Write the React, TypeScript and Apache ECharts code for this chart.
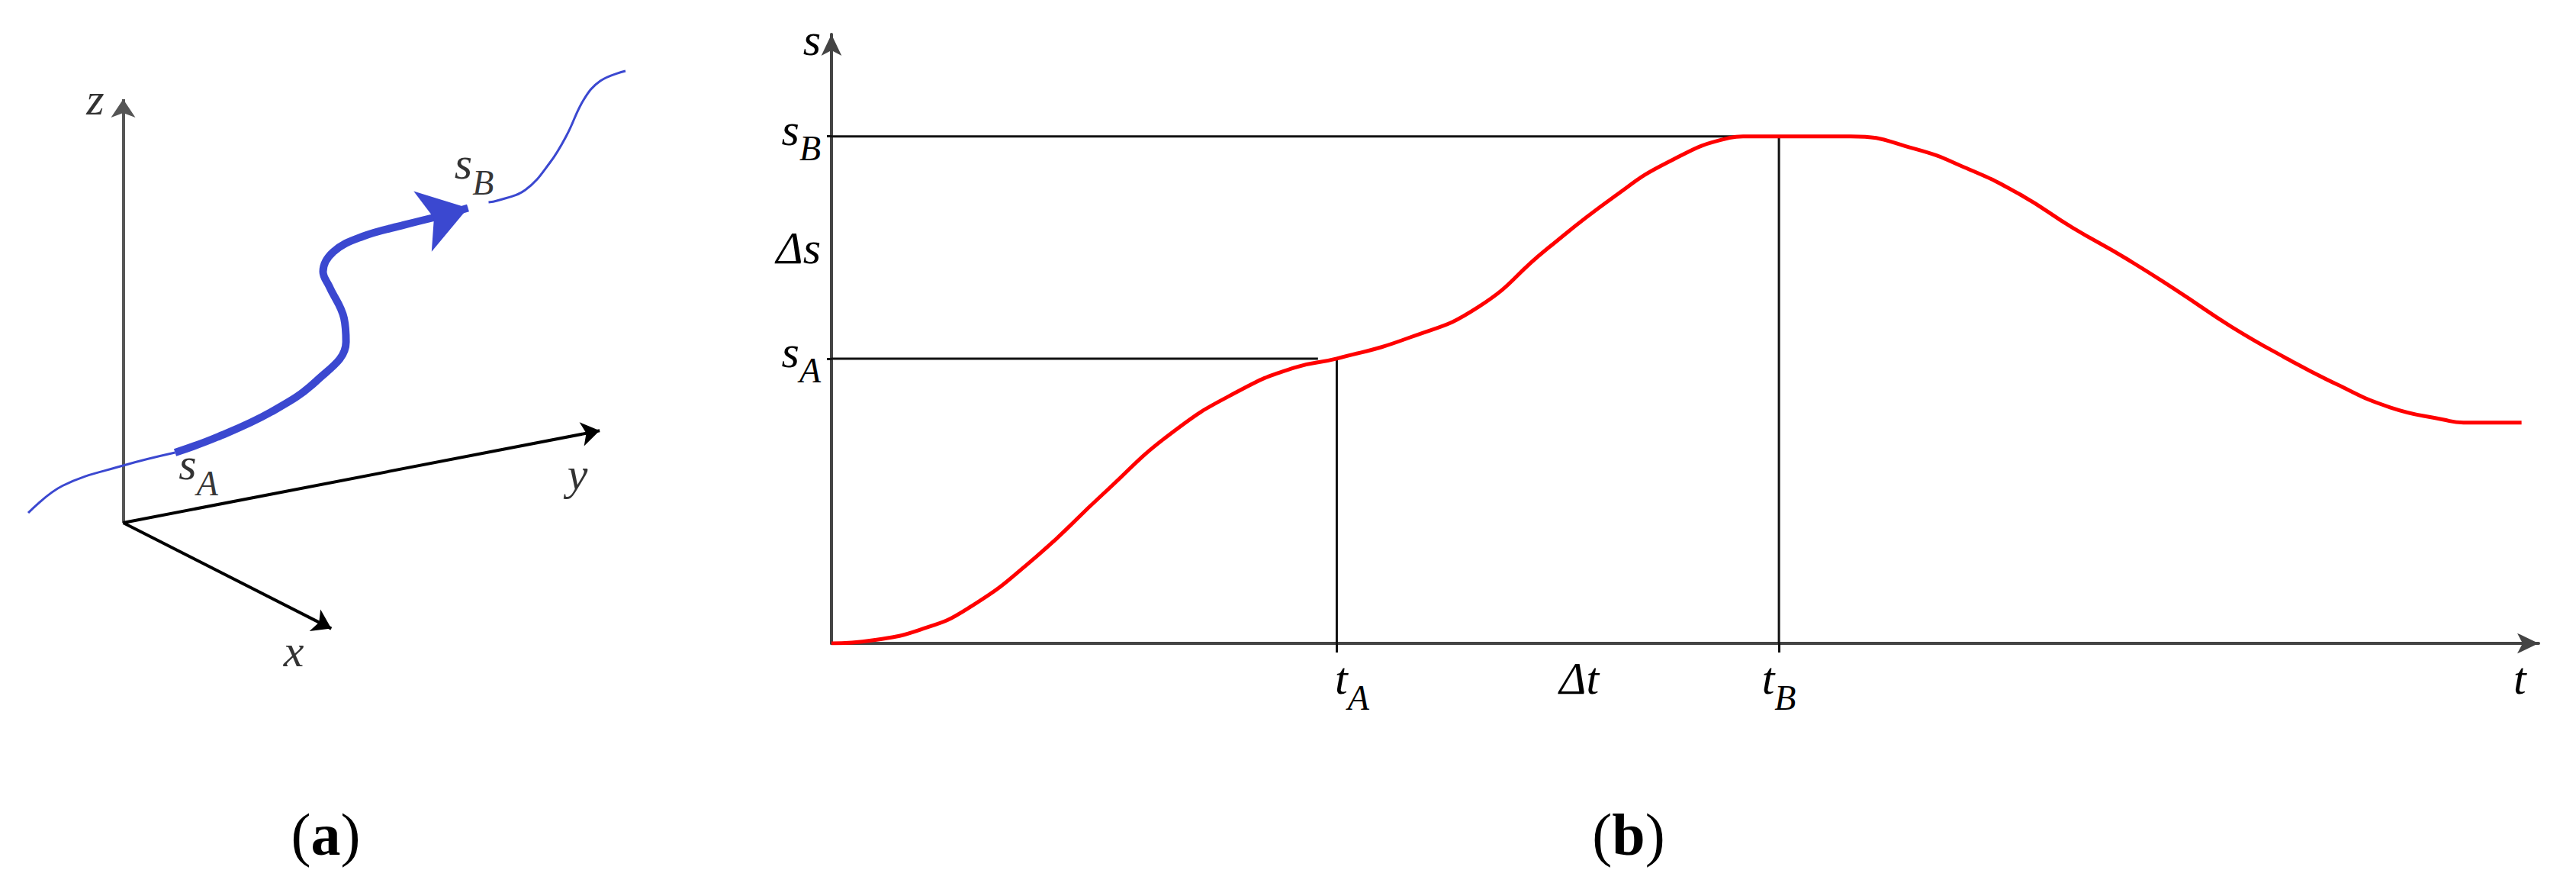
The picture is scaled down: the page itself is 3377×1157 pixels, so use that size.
import React, { useEffect, useRef } from "react";
import * as echarts from "echarts";

// ---------- Panel (b): s(t) profile ----------
const tValues = [0, 0.24, 0.52, 0.8, 1.2, 1.59, 1.99, 2.39, 2.71, 2.96, 3.39, 3.79, 4.18, 4.58, 4.9, 5.26, 5.34, 5.97, 6.34, 6.65, 6.96, 7.27, 7.58, 7.89, 8.2, 8.51, 8.82, 9.13, 9.44, 9.56, 9.9];
const sValues = [0, 0.02, 0.09, 0.23, 0.57, 0.98, 1.38, 1.66, 1.81, 1.87, 2.01, 2.21, 2.58, 2.93, 3.16, 3.32, 3.33, 3.33, 3.25, 3.12, 2.95, 2.73, 2.53, 2.31, 2.08, 1.88, 1.7, 1.55, 1.47, 1.45, 1.45];
const tA = 2.96;
const tB = 5.55;
const sA = 1.87;
const sB = 3.33;
const tLabelValues = [tA, 4.38, tB, 9.89];
const tLabelTexts = ["tA", "Δt", "tB", "t"];
const sLabelValues = [sA, 2.62, sB, 3.99];
const sLabelTexts = ["sA", "Δs", "sB", "s"];
const sBLineEnd = 5.3;
const sALineEnd = 2.85;

// ---------- Panel (a): 3D sketch (units relative to axes origin) ----------
const zAxisEnd = [0, 5.55];
const yAxisEnd = [6.247, 1.207];
const xAxisEnd = [2.728, -1.386];
const thinPathBefore = [[-1.245, 0.13], [-0.795, 0.485], [0, 0.75], [0.68, 0.92]];
const thickPath = [[0.68, 0.92], [1.225, 1.12], [1.935, 1.45], [2.535, 1.86], [2.921, 2.37], [2.895, 2.68], [2.705, 3.09], [2.62, 3.29], [2.755, 3.55], [3.135, 3.75], [3.685, 3.903], [4.2, 4.03]];
const arrowSegment = [[4.2, 4.03], [4.52, 4.125]];
const thinPathAfter = [[4.79, 4.2], [4.9, 4.22], [5.27, 4.36], [5.595, 4.72], [5.815, 5.08], [6.035, 5.54], [6.255, 5.79], [6.585, 5.92]];
const panelALabels = [
  { name: "z", value: [-0.365, 5.6] },
  { name: "y", value: [5.955, 0.69] },
  { name: "x", value: [2.235, -1.63] },
  { name: "sA", value: [0.985, 0.68] },
  { name: "sB", value: [4.6, 4.62] },
];

const SERIF = "Liberation Serif";
const BLUE = "#3b48d0";

const richStyles = (main: number, sub: number) => ({
  i: { fontFamily: SERIF, fontStyle: "italic", fontSize: main, lineHeight: 50, verticalAlign: "top", color: "#000" },
  ip: { fontFamily: SERIF, fontStyle: "italic", fontSize: main, lineHeight: 50, verticalAlign: "top", color: "#000", padding: [0, 0, 0, 40] },
  sub: { fontFamily: SERIF, fontStyle: "italic", fontSize: sub, lineHeight: 78, verticalAlign: "bottom", color: "#000" },
});

const toRich = (txt: string, padFirst = false) => {
  const head = padFirst ? "ip" : "i";
  if (txt.length === 2 && (txt[1] === "A" || txt[1] === "B")) {
    return `{${head}|${txt[0]}}{sub|${txt[1]}}`;
  }
  return `{${head}|${txt}}`;
};

const findText = (vals: number[], texts: string[], v: number) => {
  let best = 0;
  for (let i = 0; i < vals.length; i++) {
    if (Math.abs(vals[i] - v) < Math.abs(vals[best] - v)) best = i;
  }
  return texts[best];
};

export default function App() {
  const ref = useRef<HTMLDivElement>(null);

  useEffect(() => {
    if (!ref.current) return;
    const chart = echarts.init(ref.current, undefined, { renderer: "svg" });
    const curveData = tValues.map((t, i) => [t, sValues[i]]);
    const refLine = (pts: number[][]) => ({
      type: "line",
      xAxisIndex: 1,
      yAxisIndex: 1,
      data: pts,
      symbol: "none",
      lineStyle: { color: "#111", width: 3 },
      z: 2,
    });

    chart.setOption({
      animation: false,
      backgroundColor: "#fff",
      textStyle: { fontFamily: SERIF },
      grid: [
        { left: 0, top: 60, width: 860, height: 840 },
        { left: 1090, right: 49, top: 45, bottom: 314 },
      ],
      xAxis: [
        { type: "value", gridIndex: 0, min: -1.615, max: 6.985, show: false },
        {
          type: "value",
          gridIndex: 1,
          min: 0,
          max: 10,
          splitLine: { show: false },
          axisLine: {
            show: true,
            symbol: ["none", "arrow"],
            symbolSize: [20, 28],
            lineStyle: { color: "#444", width: 4 },
          },
          axisTick: {
            show: true,
            customValues: [tA, tB],
            length: 12,
            lineStyle: { color: "#111", width: 3 },
          },
          axisLabel: {
            show: true,
            customValues: tLabelValues,
            margin: 16,
            formatter: (v: number) => {
              const txt = findText(tLabelValues, tLabelTexts, v);
              return toRich(txt, txt === "tA");
            },
            rich: richStyles(60, 46),
          },
        },
      ],
      yAxis: [
        { type: "value", gridIndex: 0, min: -2.15, max: 6.25, show: false },
        {
          type: "value",
          gridIndex: 1,
          min: 0,
          max: 4,
          splitLine: { show: false },
          axisLine: {
            show: true,
            symbol: ["none", "arrow"],
            symbolSize: [20, 28],
            lineStyle: { color: "#444", width: 4 },
          },
          axisTick: {
            show: true,
            customValues: [sA, sB],
            length: 6,
            lineStyle: { color: "#111", width: 3 },
          },
          axisLabel: {
            show: true,
            customValues: sLabelValues,
            margin: 14,
            formatter: (v: number) => toRich(findText(sLabelValues, sLabelTexts, v)),
            rich: richStyles(60, 46),
          },
        },
      ],
      series: [
        // ---- Panel (a) ----
        {
          type: "lines",
          coordinateSystem: "cartesian2d",
          xAxisIndex: 0,
          yAxisIndex: 0,
          symbol: ["none", "arrow"],
          symbolSize: 24,
          data: [
            { coords: [[0, 0], zAxisEnd], lineStyle: { color: "#555", width: 4 } },
            { coords: [[0, 0], yAxisEnd], lineStyle: { color: "#000", width: 4 } },
            { coords: [[0, 0], xAxisEnd], lineStyle: { color: "#000", width: 4 } },
          ],
          lineStyle: { opacity: 1, curveness: 0 },
          z: 1,
        },
        {
          type: "line",
          xAxisIndex: 0,
          yAxisIndex: 0,
          data: thinPathBefore,
          symbol: "none",
          smooth: 0.4,
          lineStyle: { color: BLUE, width: 3 },
          z: 3,
        },
        {
          type: "line",
          xAxisIndex: 0,
          yAxisIndex: 0,
          data: thickPath,
          symbol: "none",
          smooth: 0.4,
          lineStyle: { color: BLUE, width: 10 },
          z: 3,
        },
        {
          type: "line",
          xAxisIndex: 0,
          yAxisIndex: 0,
          data: thinPathAfter,
          symbol: "none",
          smooth: 0.4,
          lineStyle: { color: BLUE, width: 3 },
          z: 3,
        },
        {
          type: "lines",
          coordinateSystem: "cartesian2d",
          xAxisIndex: 0,
          yAxisIndex: 0,
          symbol: ["none", "arrow"],
          symbolSize: [54, 62],
          data: [{ coords: arrowSegment }],
          lineStyle: { color: BLUE, width: 10, opacity: 1, curveness: 0 },
          z: 4,
        },
        {
          type: "scatter",
          xAxisIndex: 0,
          yAxisIndex: 0,
          symbolSize: 0,
          data: panelALabels,
          label: {
            show: true,
            position: "inside",
            formatter: (p: any) => toRich(p.name),
            rich: richStyles(60, 46),
          },
          z: 5,
        },
        // ---- Panel (b) ----
        refLine([[0, sB], [sBLineEnd, sB]]),
        refLine([[0, sA], [sALineEnd, sA]]),
        refLine([[tA, sA], [tA, 0]]),
        refLine([[tB, sB], [tB, 0]]),
        {
          type: "line",
          xAxisIndex: 1,
          yAxisIndex: 1,
          data: curveData,
          symbol: "none",
          smooth: 0.5,
          lineStyle: { color: "#ff0000", width: 5 },
          z: 3,
        },
      ],
      graphic: [
        {
          type: "text",
          x: 427,
          y: 1093,
          style: {
            text: "({b|a})",
            fontFamily: SERIF,
            fontSize: 78,
            fill: "#000",
            align: "center",
            verticalAlign: "middle",
            textAlign: "center",
            textVerticalAlign: "middle",
            rich: { b: { fontFamily: SERIF, fontSize: 78, fontWeight: "bold", fill: "#000" } },
          },
        },
        {
          type: "text",
          x: 2135,
          y: 1093,
          style: {
            text: "({b|b})",
            fontFamily: SERIF,
            fontSize: 78,
            fill: "#000",
            align: "center",
            verticalAlign: "middle",
            textAlign: "center",
            textVerticalAlign: "middle",
            rich: { b: { fontFamily: SERIF, fontSize: 78, fontWeight: "bold", fill: "#000" } },
          },
        },
      ],
    });
    return () => chart.dispose();
  }, []);

  return (
    <div
      ref={ref}
      style={{ position: "fixed", left: 0, top: 0, width: 3377, height: 1157, background: "#fff" }}
    />
  );
}
